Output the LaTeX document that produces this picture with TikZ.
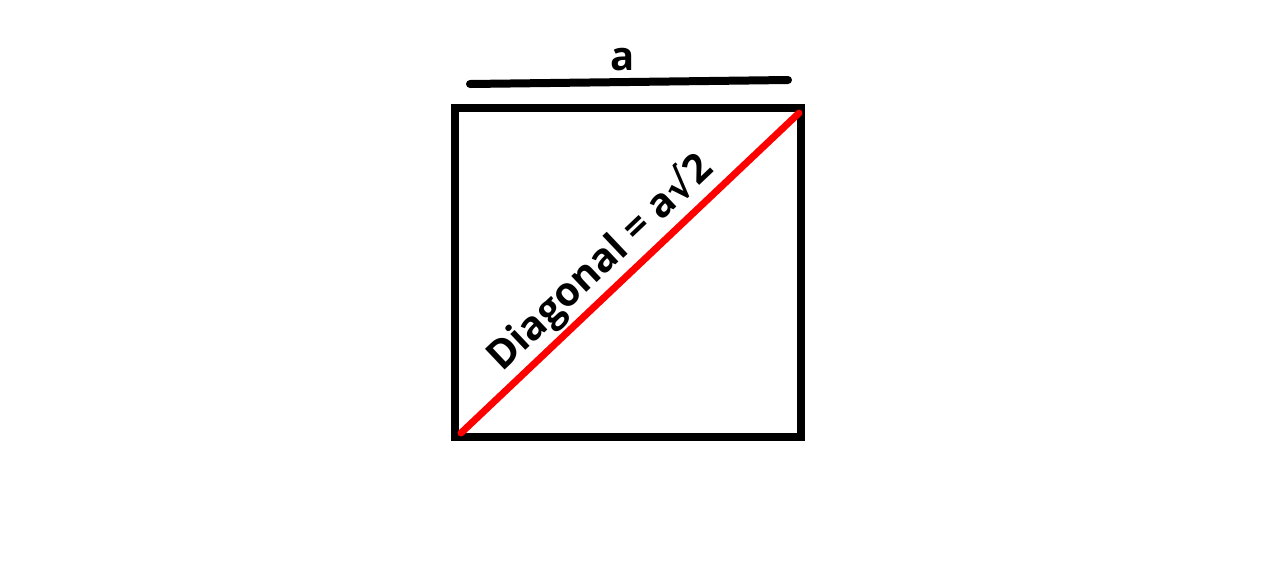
\documentclass[tikz,border=0pt]{standalone}
\usepackage{fontspec}
\setmainfont{Open Sans}
\newfontfamily\symfont{DejaVu Sans}
\begin{document}
\begin{tikzpicture}[x=0.75pt,y=-0.75pt,
  frame/.style={line width=6pt,draw=black},
  side/.style={line width=6pt,line cap=round,draw=black},
  diag/.style={line width=5.2pt,line cap=round,draw=red},
  lbl/.style={font=\fontsize{30}{32}\selectfont\bfseries,inner sep=0pt,text=black}]
\useasboundingbox[fill=white] (0,0) rectangle (1284,576);
\coordinate (tl) at (455,108);
\coordinate (br) at (801,437);
\coordinate (d1) at (461,433);
\coordinate (d2) at (799,113);
\coordinate (s1) at (470,84);
\coordinate (s2) at (788,80);
\draw[frame] (tl) rectangle (br);
\draw[diag] (d1) -- (d2);
\draw[side] (s1) -- (s2);
\node[lbl] (alabel) at (623,60) {a};
\node[lbl,anchor=base west,rotate=43.44] (dlabel) at (502,373) {Diagonal = a{\symfont\bfseries √}2};
\end{tikzpicture}
\end{document}
